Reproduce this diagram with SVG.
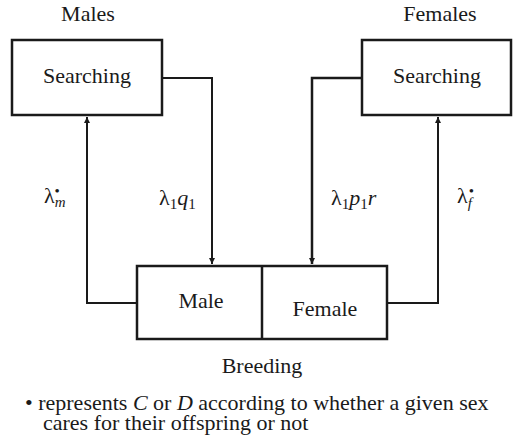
<svg xmlns="http://www.w3.org/2000/svg" width="513" height="447" viewBox="0 0 513 447">
<style>
text{fill:#1a1a1a;font-size:22px;font-family:"Liberation Serif","DejaVu Serif","Noto Serif",Georgia,serif}
.box{fill:#fff;stroke:#1a1a1a;stroke-width:2.5}
.c{fill:none;stroke:#1a1a1a;stroke-width:2}
.it{font-style:italic}
.sm{font-size:15px}
</style>
<defs>
<marker id="ah" viewBox="0 0 10 10" refX="10" refY="5" markerWidth="6" markerHeight="6" markerUnits="userSpaceOnUse" orient="auto">
<path d="M0,0 L10,5 L0,10 z" fill="#1a1a1a"/>
</marker>
</defs>
<text x="88" y="21" text-anchor="middle">Males</text>
<text x="440" y="21" text-anchor="middle">Females</text>
<g id="connectors">
<path class="c" d="M162,78 H212 V264" marker-end="url(#ah)"/>
<path class="c" d="M137,303 H87 V117" marker-end="url(#ah)"/>
<path class="c" d="M362,78 H312 V264" style="stroke-width:2.5" marker-end="url(#ah)"/>
<path class="c" d="M387,303 H438 V117" marker-end="url(#ah)"/>
</g>
<g id="male-searching">
<rect class="box" x="12" y="40" width="150" height="75"/>
<text x="87" y="83" text-anchor="middle">Searching</text>
</g>
<g id="female-searching">
<rect class="box" x="362" y="40" width="149" height="75"/>
<text x="437" y="83" text-anchor="middle">Searching</text>
</g>
<g id="breeding">
<rect class="box" x="137" y="266" width="250" height="73"/>
<line x1="262" y1="266" x2="262" y2="339" stroke="#1a1a1a" stroke-width="2.5"/>
<text x="201" y="308" text-anchor="middle">Male</text>
<text x="325" y="316" text-anchor="middle">Female</text>
<text x="262" y="373" text-anchor="middle">Breeding</text>
</g>
<g id="labels">
<text x="44" y="203">λ<tspan class="it sm" dy="4">m</tspan><tspan class="sm" dx="-11" dy="-11">•</tspan></text>
<text x="159" y="205">λ<tspan class="sm" dy="4">1</tspan><tspan class="it" dy="-4">q</tspan><tspan class="sm" dy="4">1</tspan></text>
<text x="331" y="205">λ<tspan class="sm" dy="4">1</tspan><tspan class="it" dy="-4">p</tspan><tspan class="sm" dy="4">1</tspan><tspan class="it" dy="-4">r</tspan></text>
<text x="457" y="203">λ<tspan class="it sm" dy="5">f</tspan><tspan class="sm" dx="-3" dy="-12">•</tspan></text>
</g>
<text x="25" y="410">• represents <tspan class="it">C</tspan> or <tspan class="it">D</tspan> according to whether a given sex</text>
<text x="43" y="430">cares for their offspring or not</text>
</svg>
